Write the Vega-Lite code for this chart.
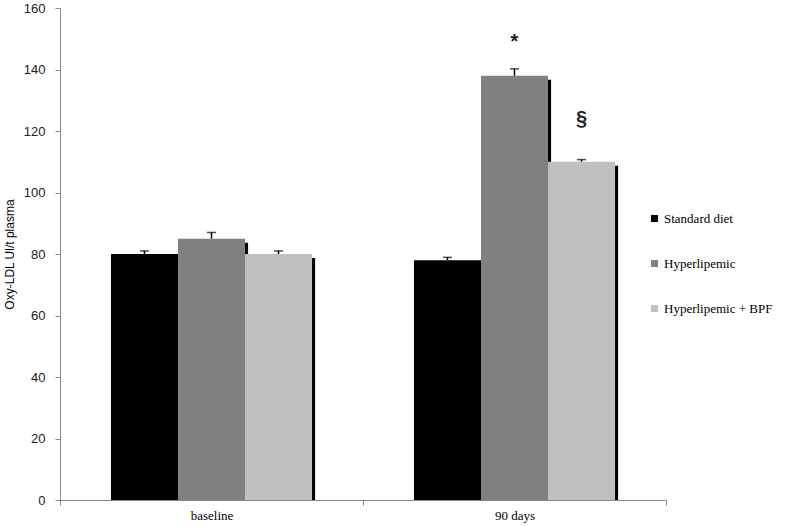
{
  "$schema": "https://vega.github.io/schema/vega-lite/v6.json",
  "width": 606,
  "height": 492,
  "autosize": "none",
  "padding": {"left": 60, "top": 8, "right": 121, "bottom": 26},
  "background": "white",
  "config": {"view": {"stroke": null}},
  "data": {
    "values": [
      {"group": "baseline", "series": "Standard diet", "value": 80, "err": 1, "mark": "", "markPos": 80},
      {"group": "baseline", "series": "Hyperlipemic", "value": 85, "err": 2, "mark": "", "markPos": 85},
      {"group": "baseline", "series": "Hyperlipemic + BPF", "value": 80, "err": 1, "mark": "", "markPos": 80},
      {"group": "90 days", "series": "Standard diet", "value": 78, "err": 0.9, "mark": "", "markPos": 78},
      {"group": "90 days", "series": "Hyperlipemic", "value": 138, "err": 2.2, "mark": "*", "markPos": 149},
      {"group": "90 days", "series": "Hyperlipemic + BPF", "value": 110, "err": 0.7, "mark": "§", "markPos": 124}
    ]
  },
  "encoding": {
    "x": {
      "field": "group", "type": "nominal", "sort": ["baseline", "90 days"],
      "scale": {"paddingInner": 0, "paddingOuter": 0},
      "axis": {
        "title": null, "labelAngle": 0, "tickBand": "extent",
        "domainColor": "#8a8a8a", "tickColor": "#8a8a8a", "tickSize": 5,
        "labelFont": "Liberation Serif", "labelFontSize": 13, "labelColor": "#000",
        "labelPadding": 4
      }
    }
  },
  "resolve": {"scale": {"xOffset": "independent"}},
  "layer": [
    {
      "mark": {"type": "bar", "color": "#000", "yOffset": 4, "clip": true},
      "encoding": {
        "xOffset": {
          "field": "series", "type": "nominal",
          "scale": {"type": "band", "domain": ["Standard diet", "Hyperlipemic", "Hyperlipemic + BPF"], "paddingInner": 0, "paddingOuter": 0.76, "align": 0.53}
        },
        "y": {"field": "value", "type": "quantitative"}
      }
    },
    {
      "mark": {"type": "bar"},
      "encoding": {
        "xOffset": {
          "field": "series", "type": "nominal",
          "scale": {"type": "band", "domain": ["Standard diet", "Hyperlipemic", "Hyperlipemic + BPF"], "paddingInner": 0, "paddingOuter": 0.76}
        },
        "y": {
          "field": "value", "type": "quantitative",
          "scale": {"domain": [0, 160]},
          "axis": {
            "title": "Oxy-LDL Ul/t plasma", "values": [0, 20, 40, 60, 80, 100, 120, 140, 160],
            "grid": false, "domainColor": "#8a8a8a", "tickColor": "#8a8a8a", "tickSize": 5,
            "labelFont": "Liberation Sans", "labelFontSize": 13, "labelColor": "#222",
            "labelPadding": 10,
            "titleFont": "Liberation Sans", "titleFontSize": 12, "titleFontWeight": "normal",
            "titleColor": "#000", "titlePadding": 7
          }
        },
        "color": {
          "field": "series", "type": "nominal",
          "scale": {"domain": ["Standard diet", "Hyperlipemic", "Hyperlipemic + BPF"], "range": ["#000000", "#808080", "#c0c0c0"]},
          "legend": {
            "title": null, "orient": "none", "legendX": 588, "legendY": 204,
            "symbolType": "square", "symbolSize": 50, "symbolStrokeWidth": 0,
            "labelFont": "Liberation Serif", "labelFontSize": 13, "labelColor": "#000",
            "rowPadding": 31, "labelOffset": 3
          }
        }
      }
    },
    {
      "mark": {"type": "rule", "color": "#000", "strokeWidth": 1.5},
      "transform": [{"calculate": "datum.value + datum.err", "as": "top"}],
      "encoding": {
        "xOffset": {
          "field": "series", "type": "nominal",
          "scale": {"type": "band", "domain": ["Standard diet", "Hyperlipemic", "Hyperlipemic + BPF"], "paddingInner": 0, "paddingOuter": 0.76}
        },
        "y": {"field": "value", "type": "quantitative"},
        "y2": {"field": "top"}
      }
    },
    {
      "mark": {"type": "tick", "color": "#000", "thickness": 1.5, "size": 9},
      "transform": [{"calculate": "datum.value + datum.err", "as": "top"}],
      "encoding": {
        "xOffset": {
          "field": "series", "type": "nominal",
          "scale": {"type": "band", "domain": ["Standard diet", "Hyperlipemic", "Hyperlipemic + BPF"], "paddingInner": 0, "paddingOuter": 0.76}
        },
        "y": {"field": "top", "type": "quantitative"}
      }
    },
    {
      "mark": {"type": "text", "font": "Liberation Sans", "fontSize": 20, "fontWeight": "bold", "color": "#222", "align": "center"},
      "encoding": {
        "xOffset": {
          "field": "series", "type": "nominal",
          "scale": {"type": "band", "domain": ["Standard diet", "Hyperlipemic", "Hyperlipemic + BPF"], "paddingInner": 0, "paddingOuter": 0.76}
        },
        "y": {"field": "markPos", "type": "quantitative"},
        "text": {"field": "mark"}
      }
    }
  ]
}
